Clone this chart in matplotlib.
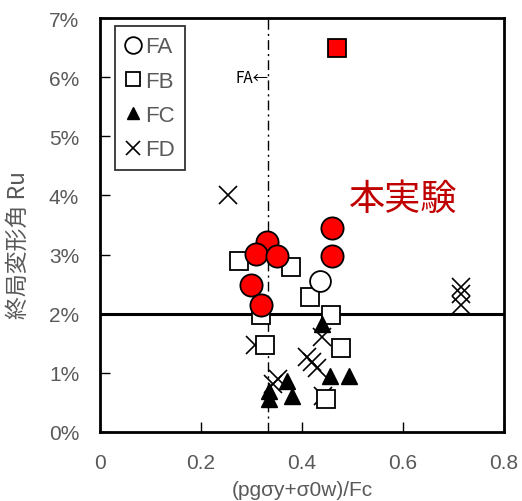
import matplotlib
matplotlib.use("Agg")
import matplotlib.pyplot as plt
from matplotlib.ticker import FuncFormatter

plt.rcParams['font.family'] = ['Liberation Sans', 'Noto Sans CJK JP', 'DejaVu Sans']

# previous tests (FA - FD)
fa_x = [0.436]
fa_y = [2.56]

fb_x = [0.276, 0.378, 0.415, 0.319, 0.457, 0.326, 0.477, 0.447]
fb_y = [2.90, 2.79, 2.28, 1.98, 1.98, 1.47, 1.42, 0.56]

fc_x = [0.439, 0.370, 0.380, 0.335, 0.335, 0.455, 0.493]
fc_y = [1.83, 0.87, 0.60, 0.70, 0.56, 0.94, 0.94]

fd_x = [0.254, 0.715, 0.715, 0.715, 0.439, 0.307, 0.409, 0.419, 0.429, 0.442, 0.353, 0.343]
fd_y = [4.00, 2.45, 2.33, 2.14, 1.60, 1.47, 1.26, 1.18, 1.09, 0.61, 0.90, 0.81]

# this study
own_circle_x = [0.460, 0.460, 0.330, 0.308, 0.350, 0.299, 0.319]
own_circle_y = [3.45, 2.98, 3.22, 3.01, 2.98, 2.49, 2.15]
own_square_x = [0.469]
own_square_y = [6.49]

fa_limit = 0.332
ru_limit = 2.0

gray = '#595959'

fig = plt.figure(figsize=(5.22, 5.02), dpi=100)
ax = fig.add_axes([0.1916, 0.1375, 0.7739, 0.8245])

ax.axhline(ru_limit, color='black', lw=2.2, zorder=1)
ax.axvline(fa_limit, color='black', lw=1.0, ls=(0, (7, 3, 1.5, 3)), zorder=1)

ax.plot(fd_x, fd_y, ls='none', marker='x', ms=13, mew=1.2, color='black', zorder=2, label='FD')
ax.plot(fb_x, fb_y, ls='none', marker='s', ms=13, mew=1.3, mfc='white', mec='black', zorder=3, label='FB')
ax.plot(fc_x, fc_y, ls='none', marker='^', ms=11, color='black', zorder=4, label='FC')
ax.plot(fa_x, fa_y, ls='none', marker='o', ms=15, mew=1.3, mfc='white', mec='black', zorder=5, label='FA')
ax.plot(own_circle_x, own_circle_y, ls='none', marker='o', ms=16, mew=1.3, mfc='#FF0000', mec='black', zorder=6)
ax.plot(own_square_x, own_square_y, ls='none', marker='s', ms=13.5, mew=1.3, mfc='#FF0000', mec='black', zorder=6)

ax.text(0.600, 3.94, '本実験', color='#C00000', fontsize=26,
        family=['Noto Sans CJK JP', 'DejaVu Sans'], ha='center', va='center')
ax.text(fa_limit + 0.002, 6.0, 'FA←', color='black', fontsize=11,
        family=['Noto Sans CJK JP', 'DejaVu Sans'], ha='right', va='center')

handles, labels = ax.get_legend_handles_labels()
order = [3, 1, 2, 0]
leg = ax.legend([handles[i] for i in order], [labels[i] for i in order],
                loc='upper left', bbox_to_anchor=(0.037, 0.98), borderaxespad=0,
                fontsize=16, markerscale=0.8, handlelength=0.7, handletextpad=0.2,
                labelspacing=0.6, borderpad=0.45, frameon=True, fancybox=False,
                labelcolor=gray)
leg.get_frame().set_edgecolor('black')
leg.get_frame().set_linewidth(1.3)

ax.set_xlim(0, 0.8)
ax.set_ylim(0, 7)
ax.set_xticks([0, 0.2, 0.4, 0.6, 0.8])
ax.set_xticklabels(['0', '0.2', '0.4', '0.6', '0.8'])
ax.set_yticks(range(8))
ax.yaxis.set_major_formatter(FuncFormatter(lambda v, p: '%d%%' % v))
ax.tick_params(direction='in', length=7, width=1, labelsize=15, labelcolor=gray, pad=15)

for s in ax.spines.values():
    s.set_linewidth(2)

ax.set_xlabel('(pgσy+σ0w)/Fc', fontsize=15, color=gray, labelpad=6)
ax.set_ylabel('終局変形角 Ru', fontsize=16.5, color=gray,
              family=['Noto Sans CJK JP', 'DejaVu Sans'])
ax.yaxis.set_label_coords(-0.173, 0.454)

fig.savefig('out.png', dpi=100)
